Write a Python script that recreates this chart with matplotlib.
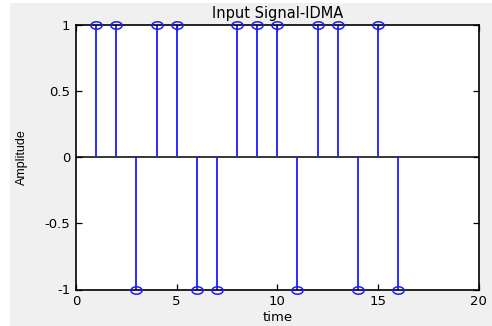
import numpy as np
import matplotlib.pyplot as plt
from matplotlib.patches import Rectangle
from matplotlib.path import Path

# signal samples
t = np.arange(1, 17)
amp = [1, 1, -1, 1, 1, -1, -1, 1, 1, 1, -1, 1, 1, -1, 1, -1]

x_ticks = [0, 5, 10, 15, 20]
y_ticks = [-1, -0.5, 0, 0.5, 1]
y_tick_labels = ['-1', '-0.5', '0', '0.5', '1']

plt.rcParams['font.family'] = ['DejaVu Sans']

fig = plt.figure(figsize=(4.92, 3.26), dpi=100)
fig.patch.set_facecolor('white')
# grey matlab-like window background
fig.patches.append(Rectangle((10 / 492, 0), 1, (326 - 3) / 326, transform=fig.transFigure,
                             facecolor='#f0f0f0', edgecolor='none', zorder=-10))

ax = fig.add_axes([76 / 492, 1 - 289.5 / 326, (478.5 - 76) / 492, (289.5 - 25) / 326])
ax.set_facecolor('white')

# slightly wide circle, the original picture is stretched sideways
ang = np.linspace(0, 2 * np.pi, 41)
ellipse = Path(np.column_stack([1.5 * np.cos(ang), np.sin(ang)]), closed=True)

ax.axhline(0, color='black', lw=1.1, zorder=1)
ax.vlines(t, 0, amp, color='#1a1aff', lw=1.3, zorder=2)
ax.plot(t, amp, linestyle='none', marker=ellipse, mfc='none', mec='#1a1aff', ms=8, mew=1.1,
        zorder=3, clip_on=False)

ax.set_xlim(0, 20)
ax.set_ylim(-1, 1)
ax.set_xticks(x_ticks)
ax.set_yticks(y_ticks)
ax.set_xticklabels([str(v) for v in x_ticks])
ax.set_yticklabels(y_tick_labels)
ax.tick_params(direction='in', length=4, width=0.9, top=True, right=True, labelsize=9.5,
               colors='black', pad=4)
for s in ax.spines.values():
    s.set_linewidth(1.2)

ax.set_title('Input Signal-IDMA', fontsize=10.5, pad=5)
ax.set_xlabel('time', fontsize=9.5, labelpad=2)
ax.set_ylabel('Amplitude', fontsize=9, labelpad=12, family=['Liberation Sans'])

fig.savefig('out.png', dpi=100)
